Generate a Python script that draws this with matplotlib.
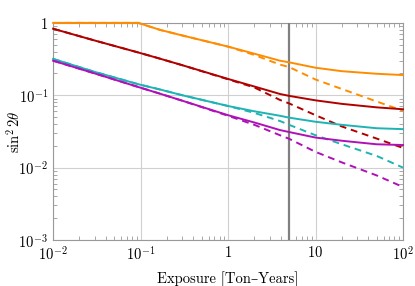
import matplotlib
matplotlib.use("Agg")
import matplotlib.pyplot as plt
from matplotlib.ticker import LogLocator, FuncFormatter, NullFormatter
import numpy as np

plt.rcParams['font.family'] = ['cmr10', 'DejaVu Serif']
plt.rcParams['mathtext.fontset'] = 'cm'
plt.rcParams['axes.unicode_minus'] = False

# exposure [ton-years]
exposure = [0.01, 0.03, 0.094, 0.167, 0.3, 1, 2, 3.93, 5, 10, 20, 50, 100]

# solid curves
orange_solid = [1.0, 1.0, 1.0, 0.80, 0.67, 0.47, 0.375, 0.30, 0.285, 0.24, 0.215, 0.198, 0.19]
red_solid = [0.83, 0.57, 0.39, 0.32, 0.26, 0.168, 0.132, 0.104, 0.098, 0.085, 0.076, 0.068, 0.064]
teal_solid = [0.318, 0.21, 0.142, 0.12, 0.10, 0.071, 0.06, 0.052, 0.049, 0.043, 0.039, 0.035, 0.034]
magenta_solid = [0.30, 0.20, 0.13, 0.105, 0.084, 0.053, 0.042, 0.033, 0.031, 0.026, 0.0235, 0.021, 0.0205]

# dashed curves
orange_dash = [1.0, 1.0, 1.0, 0.80, 0.67, 0.47, 0.36, 0.265, 0.245, 0.165, 0.122, 0.082, 0.061]
red_dash = [0.83, 0.57, 0.39, 0.32, 0.26, 0.166, 0.128, 0.086, 0.077, 0.053, 0.037, 0.0252, 0.0187]
teal_dash = [0.318, 0.21, 0.142, 0.12, 0.10, 0.071, 0.057, 0.044, 0.039, 0.028, 0.021, 0.0145, 0.0100]
magenta_dash = [0.30, 0.20, 0.13, 0.105, 0.084, 0.052, 0.039, 0.028, 0.025, 0.0165, 0.0118, 0.0078, 0.0054]

exposure_line = 5

colors = ["#ff8c00", "#b00000", "#1fb3b3", "#b010b8"]
solids = [orange_solid, red_solid, teal_solid, magenta_solid]
dashes = [orange_dash, red_dash, teal_dash, magenta_dash]

fig = plt.figure(figsize=(4.15, 2.86), dpi=100)
ax = fig.add_axes([0.128, 0.161, 0.843, 0.759])

for c, s, d in zip(colors, solids, dashes):
  ax.plot(exposure, d, color=c, lw=1.4, dashes=(3.5, 2.5), zorder=3, clip_on=False)
  ax.plot(exposure, s, color=c, lw=1.4, zorder=3, clip_on=False)

ax.axvline(exposure_line, color="#808080", lw=1.6, zorder=2.8)

ax.set_xscale("log")
ax.set_yscale("log")
ax.set_xlim(1e-2, 1e2)
ax.set_ylim(1e-3, 1)

def fmt(v, pos):
  k = int(round(np.log10(v)))
  if k == 0:
    return "$1$"
  if k == 1:
    return "$10$"
  return "$10^{%d}$" % k

ax.xaxis.set_major_locator(LogLocator(base=10, numticks=10))
ax.yaxis.set_major_locator(LogLocator(base=10, numticks=10))
ax.xaxis.set_minor_locator(LogLocator(base=10, subs=np.arange(2, 10), numticks=20))
ax.yaxis.set_minor_locator(LogLocator(base=10, subs=np.arange(2, 10), numticks=20))
ax.xaxis.set_major_formatter(FuncFormatter(fmt))
ax.yaxis.set_major_formatter(FuncFormatter(fmt))
ax.xaxis.set_minor_formatter(NullFormatter())
ax.yaxis.set_minor_formatter(NullFormatter())

ax.tick_params(which="both", direction="in", top=True, right=True, color="#999999", labelsize=10.5)
ax.tick_params(which="major", length=0)
ax.tick_params(which="minor", length=3, width=0.6)
ax.grid(True, which="major", color="#d0d0d0", lw=0.8)
ax.set_axisbelow(True)
for sp in ax.spines.values():
  sp.set_color("#999999")
  sp.set_linewidth(0.8)

ax.set_xlabel("Exposure [Ton–Years]", fontsize=10.5, labelpad=6)
ax.set_ylabel(r"$\sin^2 2\theta$", fontsize=10.5)
ax.yaxis.set_label_coords(-0.086, 0.5)

fig.savefig("out.png", dpi=100)
